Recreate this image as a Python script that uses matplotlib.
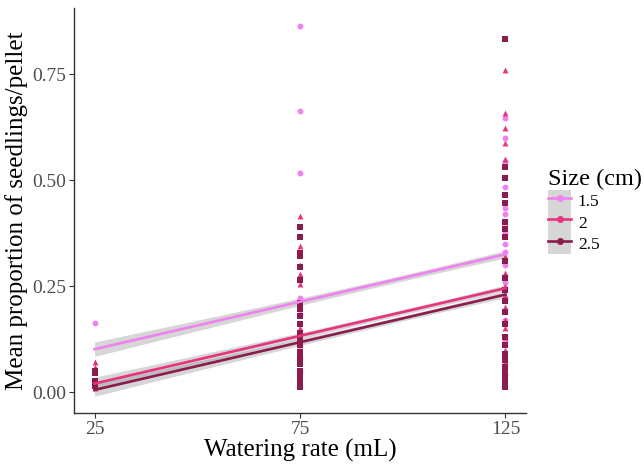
import numpy as np
import matplotlib.pyplot as plt
from matplotlib.lines import Line2D
from matplotlib.patches import Patch

plt.rcParams['font.family'] = ['Liberation Serif', 'DejaVu Serif']

sizes = ['1.5', '2', '2.5']
colors = ['#EE82EE', '#E8337F', '#8B1C4E']
markers = ['o', '^', 's']

# observed values by watering rate (25, 75, 125 mL)
pts_15 = {25: [0.163, 0.02],
          75: [0.863, 0.663, 0.517, 0.222, 0.184, 0.08, 0.05],
          125: [0.646, 0.60, 0.542, 0.484, 0.434, 0.42, 0.375, 0.35, 0.33,
                0.30, 0.26, 0.22, 0.17, 0.12, 0.07, 0.04]}
pts_2 = {25: [0.07, 0.06, 0.02, 0.01],
         75: [0.415, 0.345, 0.30, 0.278, 0.255, 0.20, 0.15, 0.11, 0.07,
              0.05, 0.03, 0.02],
         125: [0.76, 0.658, 0.623, 0.587, 0.55, 0.40, 0.32, 0.28, 0.25, 0.23,
               0.20, 0.17, 0.15, 0.13, 0.10, 0.07, 0.05, 0.03, 0.015]}
pts_25 = {25: [0.05, 0.045, 0.025, 0.015],
          75: [0.39, 0.365, 0.328, 0.32, 0.295, 0.265, 0.21, 0.195, 0.18,
               0.16, 0.14, 0.125, 0.11, 0.095, 0.08, 0.065, 0.05, 0.04,
               0.03, 0.02, 0.012],
          125: [0.833, 0.531, 0.505, 0.465, 0.446, 0.40, 0.385, 0.366, 0.31,
                0.27, 0.24, 0.215, 0.19, 0.16, 0.13, 0.11, 0.09, 0.075, 0.06,
                0.045, 0.03, 0.02, 0.012]}
points = [pts_15, pts_2, pts_25]

# fitted lines: value at 25 and 125 mL
fit_start = [0.101, 0.020, 0.005]
fit_end = [0.325, 0.245, 0.230]
# confidence band half widths (at 25 mL, minimum) and centre
band_edge = [0.017, 0.015, 0.015]
band_min = [0.007, 0.006, 0.006]
band_centre = 100

fig = plt.figure(figsize=(6.44, 4.66), dpi=100)
ax = fig.add_axes([0.1149, 0.1137, 0.7019, 0.8691])

xs = np.linspace(25, 125, 101)
for i in range(3):
    y = fit_start[i] + (fit_end[i] - fit_start[i]) * (xs - 25) / 100
    k = (band_edge[i] ** 2 - band_min[i] ** 2) / (band_centre - 25) ** 2
    hw = np.sqrt(band_min[i] ** 2 + k * (xs - band_centre) ** 2)
    ax.fill_between(xs, y - hw, y + hw, color='#999999', alpha=0.4,
                    linewidth=0, zorder=1)

for i in range(3):
    for x, vals in points[i].items():
        ax.scatter([x] * len(vals), vals, marker=markers[i], s=18,
                   color=colors[i], linewidths=0, zorder=2)

for i in range(3):
    ax.plot([25, 125], [fit_start[i], fit_end[i]], color=colors[i], lw=1.9,
            zorder=3)

ax.set_xlim(20, 130)
ax.set_ylim(-0.0495, 0.906)
ax.set_xticks([25, 75, 125])
ax.set_yticks([0, 0.25, 0.5, 0.75])
ax.set_yticklabels(['0.00', '0.25', '0.50', '0.75'])
ax.tick_params(labelsize=14, colors='#333333', labelcolor='#4D4D4D',
               length=3.5, width=0.8, pad=2)
for s in ['top', 'right']:
    ax.spines[s].set_visible(False)
for s in ['left', 'bottom']:
    ax.spines[s].set_color('#333333')
    ax.spines[s].set_linewidth(1.0)

ax.set_xlabel('Watering rate (mL)', fontsize=18, labelpad=1)
ax.set_ylabel('Mean proportion of seedlings/pellet', fontsize=18, labelpad=3)

handles = [(Patch(facecolor='#D6D6D6', edgecolor='none'),
            Line2D([], [], color=c, lw=1.9, marker='o', markersize=4))
           for c in colors]
leg = fig.legend(handles, sizes, title='Size (cm)', loc='upper left',
                 bbox_to_anchor=(0.838, 0.656), frameon=False, fontsize=12.5,
                 title_fontsize=17.5, handlelength=1.3, handleheight=1.5,
                 labelspacing=0, borderpad=0, handletextpad=0.4)
leg._legend_box.align = 'left'

fig.savefig('out.png', dpi=100)
